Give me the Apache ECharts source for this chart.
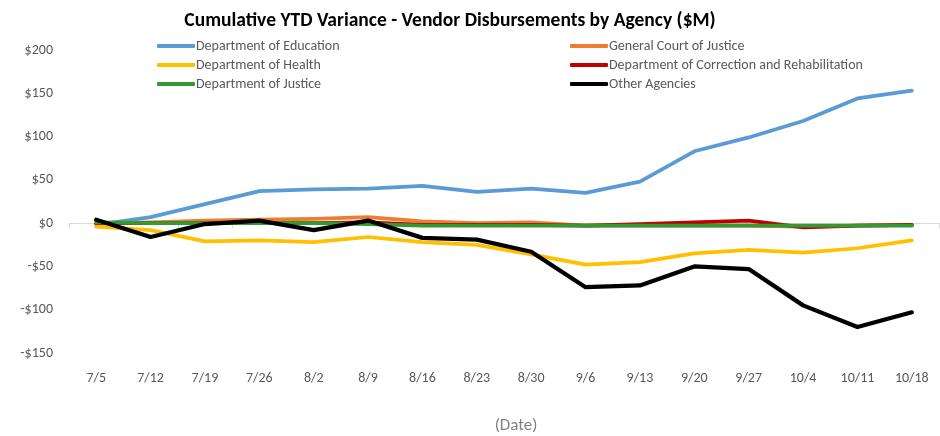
<!DOCTYPE html>
<html><head><meta charset="utf-8">
<script src="https://cdn.jsdelivr.net/npm/echarts@6/dist/echarts.min.js"></script>
<style>html,body{margin:0;padding:0;background:#fff}#c{width:940px;height:436px}</style>
</head><body><div id="c"></div>
<script>
const categories = ['7/5','7/12','7/19','7/26','8/2','8/9','8/16','8/23','8/30','9/6','9/13','9/20','9/27','10/4','10/11','10/18'];
const education  = [-2, 7, 22, 37, 39, 40, 43, 36, 40, 35, 48, 83, 99, 118, 144, 153];
const genCourt   = [0, 1, 3, 4, 5, 7, 2, 0, 1, -3, -3, -3, -3, -4, -3, -2];
const health     = [-4, -8, -21, -20, -22, -16, -22, -25, -36, -48, -45, -35, -31, -34, -29, -20];
const correction = [0, 0, 0, 0, 0, 1, -2, -2, -2, -3, -1, 1, 3, -5, -3, -2];
const justice    = [1, 0, 0, 0, 0, -1, -3, -3, -3, -3, -3, -3, -3, -3, -3, -3];
const other      = [4, -16, -1, 3, -8, 3, -17, -19, -33, -74, -72, -50, -53, -95, -120, -103];
const yTicks = {min: -150, max: 200, interval: 50};

const FONT = 'Carlito, Lato, sans-serif';
const chart = echarts.init(document.getElementById('c'), null, {renderer: 'canvas'});
function s(name, data, color, w) {
  return {name, type: 'line', data, symbol: 'none', smooth: false,
    lineStyle: {color, width: w, cap: 'round', join: 'round'}, itemStyle: {color}};
}
const legendCommon = {orient: 'vertical', top: 39, padding: 0, itemWidth: 38, itemHeight: 4, itemGap: 5,
  icon: 'roundRect', textStyle: {fontFamily: FONT, fontSize: 14, color: '#595959', padding: [0, 0, 0, -4]}};
chart.setOption({
  animation: false,
  title: {text: 'Cumulative YTD Variance - Vendor Disbursements by Agency ($M)', left: 445, textAlign: 'center', top: 6,
    textStyle: {fontFamily: FONT, fontSize: 19.5, fontWeight: 'bold', color: '#000'}},
  legend: [
    Object.assign({left: 157, data: ['Department of Education', 'Department of Health', 'Department of Justice']}, legendCommon),
    Object.assign({left: 570, data: ['General Court of Justice', 'Department of Correction and Rehabilitation', 'Other Agencies']}, legendCommon)
  ],
  grid: {left: 69, right: 1, top: 50, bottom: 83, containLabel: false, outerBoundsMode: 'none'},
  xAxis: [
    {type: 'category', data: categories, boundaryGap: true,
      axisLine: {onZero: true, lineStyle: {color: '#D9D9D9', width: 1}},
      axisTick: {show: true, length: 5, lineStyle: {color: '#D9D9D9'}},
      axisLabel: {show: false}, splitLine: {show: false}},
    {type: 'category', data: categories, boundaryGap: true, position: 'bottom',
      name: '(Date)', nameLocation: 'middle', nameGap: 64,
      nameTextStyle: {fontFamily: FONT, fontSize: 17, color: '#7F7F7F', padding: [0, 0, 0, 24]},
      axisLine: {show: false, onZero: false}, axisTick: {show: false},
      axisLabel: {margin: 18, fontFamily: FONT, fontSize: 14, color: '#595959'},
      splitLine: {show: false}}
  ],
  yAxis: {type: 'value', min: yTicks.min, max: yTicks.max, interval: yTicks.interval,
    axisLine: {show: false}, axisTick: {show: false}, splitLine: {show: false},
    axisLabel: {margin: 16, fontFamily: FONT, fontSize: 14, color: '#595959',
      formatter: v => (v < 0 ? '-$' + Math.abs(v) : '$' + v)}},
  series: [
    s('Department of Education', education, '#5B9BD5', 3.75),
    s('General Court of Justice', genCourt, '#ED7D31', 3.75),
    s('Department of Health', health, '#FFC000', 3.75),
    s('Department of Correction and Rehabilitation', correction, '#C00000', 3.75),
    s('Department of Justice', justice, '#339933', 3.75),
    s('Other Agencies', other, '#000000', 4.25)
  ]
});
</script></body></html>
